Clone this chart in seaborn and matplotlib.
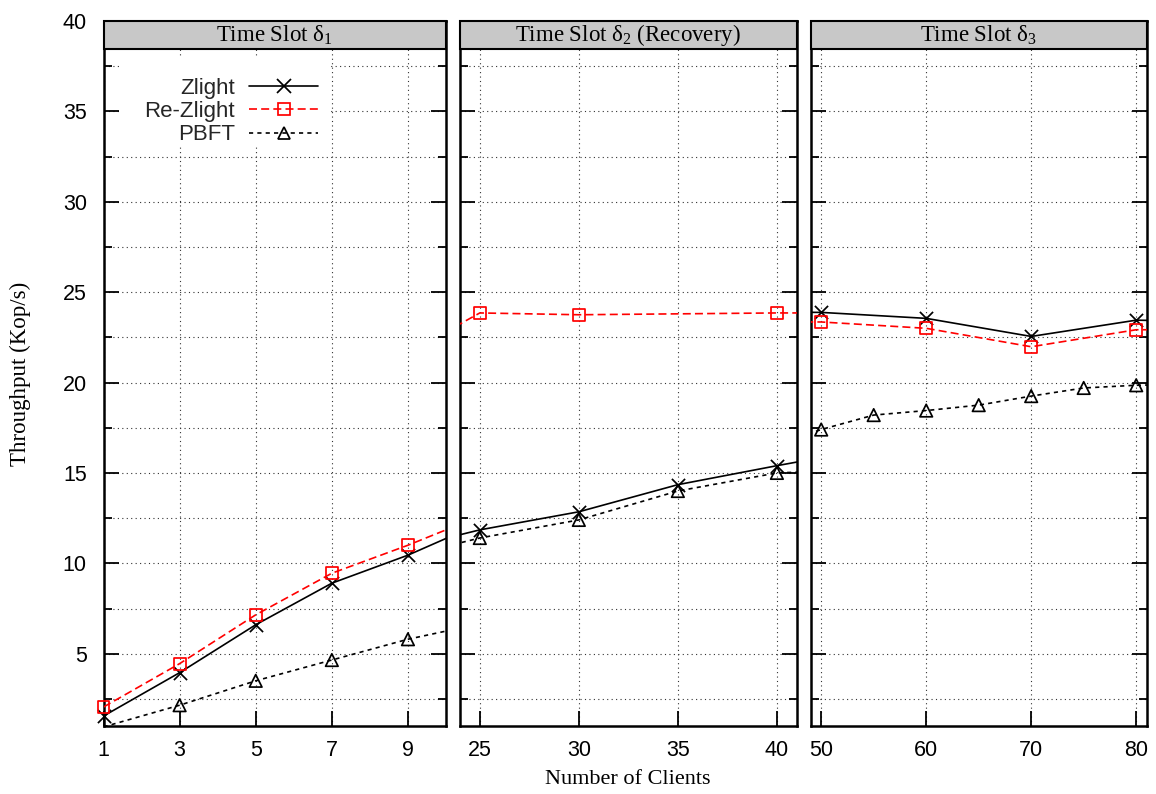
import numpy as np
import pandas as pd
import matplotlib
matplotlib.use("Agg")
import matplotlib.pyplot as plt
import seaborn as sns
from matplotlib.lines import Line2D
from matplotlib.patches import Rectangle
from matplotlib.ticker import MultipleLocator

sns.set_theme(style="white")
plt.rcParams['font.family'] = ['Liberation Sans', 'DejaVu Sans']
plt.rcParams['mathtext.default'] = 'regular'

# ---------------- data ----------------
series_names = ["Zlight", "Re-Zlight", "PBFT"]
panel_titles = ["Time Slot δ$_1$", "Time Slot δ$_2$ (Recovery)", "Time Slot δ$_3$"]
panel_xlims = [(1, 10), (24, 41), (49, 81)]
panel_xticks = [[1, 3, 5, 7, 9], [25, 30, 35, 40], [50, 60, 70, 80]]
y_ticks = [5, 10, 15, 20, 25, 30, 35, 40]
y_limits = (1, 40)

# time slot 1 (points beyond the visible range continue the curves off-panel)
s1_zlight_x = [1, 3, 5, 7, 9, 11]
s1_zlight_y = [1.55, 3.95, 6.6, 8.9, 10.45, 12.3]
s1_rezlight_x = [1, 3, 5, 7, 9, 11]
s1_rezlight_y = [2.05, 4.45, 7.15, 9.45, 11.0, 12.7]
s1_pbft_x = [1, 3, 5, 7, 9, 11]
s1_pbft_y = [0.95, 2.15, 3.5, 4.65, 5.8, 6.7]

# time slot 2 (recovery)
s2_zlight_x = [20, 25, 30, 35, 40, 45]
s2_zlight_y = [10.5, 11.85, 12.85, 14.35, 15.4, 16.4]
s2_rezlight_x = [20, 25, 30, 40, 45]
s2_rezlight_y = [20.8, 23.85, 23.75, 23.85, 23.85]
s2_pbft_x = [20, 25, 30, 35, 40, 45]
s2_pbft_y = [10.05, 11.4, 12.4, 14.0, 15.0, 15.2]

# time slot 3
s3_zlight_x = [45, 50, 60, 70, 80, 85]
s3_zlight_y = [23.9, 23.88, 23.55, 22.55, 23.45, 23.4]
s3_rezlight_x = [45, 50, 60, 70, 80, 85]
s3_rezlight_y = [23.35, 23.35, 23.0, 21.98, 22.92, 22.92]
s3_pbft_x = [45, 50, 55, 60, 65, 70, 75, 80, 85]
s3_pbft_y = [16.4, 17.4, 18.2, 18.45, 18.75, 19.25, 19.7, 19.85, 19.9]

panel_data = [
    [(s1_zlight_x, s1_zlight_y), (s1_rezlight_x, s1_rezlight_y), (s1_pbft_x, s1_pbft_y)],
    [(s2_zlight_x, s2_zlight_y), (s2_rezlight_x, s2_rezlight_y), (s2_pbft_x, s2_pbft_y)],
    [(s3_zlight_x, s3_zlight_y), (s3_rezlight_x, s3_rezlight_y), (s3_pbft_x, s3_pbft_y)],
]

# ---------------- styles ----------------
styles = {
    "Zlight":    dict(color="black", ls="-", marker="x", ms=9.5, filled=False),
    "Re-Zlight": dict(color="#ff0000", ls=(0, (4.8, 2.5)), marker="s", ms=8.5, filled=True),
    "PBFT":      dict(color="black", ls=(0, (2.5, 2.5)), marker="^", ms=9.0, filled=True),
}
LW = 1.2
MEW = 1.25

W, H = 1156, 794
fig = plt.figure(figsize=(W / 100, H / 100), dpi=100)
fig.patch.set_facecolor("white")

top_px, bot_px = 21, 726
panel_px = [(103.5, 446.0), (460.0, 796.7), (810.7, 1146.7)]
serif = ['Liberation Serif', 'DejaVu Serif']
TICK_FS = 15.5

axes = []
for i, (l, r) in enumerate(panel_px):
    ax = fig.add_axes([l / W, 1 - bot_px / H, (r - l) / W, (bot_px - top_px) / H])
    axes.append(ax)
    ax.set_facecolor("white")
    ax.set_axisbelow(True)
    for name, (xs, ys) in zip(series_names, panel_data[i]):
        st = styles[name]
        sns.lineplot(x=xs, y=ys, ax=ax, color=st["color"], linestyle=st["ls"],
                     linewidth=LW, errorbar=None, zorder=3)
        x0, x1 = panel_xlims[i]
        xin = [x for x, y in zip(xs, ys) if x0 <= x <= x1 and y_limits[0] <= y <= y_limits[1]]
        yin = [y for x, y in zip(xs, ys) if x0 <= x <= x1 and y_limits[0] <= y <= y_limits[1]]
        if st["filled"]:
            sns.scatterplot(x=xin, y=yin, ax=ax, marker=st["marker"], s=st["ms"] ** 2,
                            color=st["color"], facecolor="none", edgecolor=st["color"],
                            linewidth=MEW, clip_on=False, zorder=4, legend=False)
        else:
            sns.scatterplot(x=xin, y=yin, ax=ax, marker=st["marker"], s=st["ms"] ** 2,
                            color=st["color"], linewidth=MEW, clip_on=False, zorder=4,
                            legend=False)
    ax.set_xlim(*panel_xlims[i])
    ax.set_ylim(*y_limits)
    ax.set_xticks(panel_xticks[i])
    ax.set_xticklabels([str(t) for t in panel_xticks[i]])
    ax.set_yticks(y_ticks)
    ax.yaxis.set_minor_locator(MultipleLocator(2.5))
    ax.grid(True, which="both", axis="y", color="0.2", linestyle=(0, (1, 3)), linewidth=0.8)
    ax.grid(True, which="major", axis="x", color="0.2", linestyle=(0, (1, 3)), linewidth=0.8)
    ax.tick_params(axis="y", which="major", direction="in", left=True, right=True,
                   length=11, width=1.3, color="black", labelsize=TICK_FS, pad=12,
                   labelleft=(i == 0), labelcolor="black")
    ax.tick_params(axis="y", which="minor", direction="in", left=True, right=True,
                   length=5.5, width=1.3, color="black")
    ax.tick_params(axis="x", which="major", direction="in", bottom=True, top=False,
                   length=11, width=1.3, color="black", labelsize=TICK_FS, pad=10,
                   labelcolor="black")
    ax.set_xlabel("")
    ax.set_ylabel("")
    for sp in ax.spines.values():
        sp.set_visible(True)
        sp.set_color("black")
        sp.set_linewidth(1.8)
    # strip header
    strip_h = 28 / (bot_px - top_px)
    ax.add_patch(Rectangle((0, 1 - strip_h), 1, strip_h, transform=ax.transAxes,
                           facecolor="#c8c8c8", edgecolor="black", linewidth=1.5,
                           clip_on=False, zorder=10))
    ax.text(0.5, 1 - strip_h / 2, panel_titles[i], transform=ax.transAxes,
            ha="center", va="center", fontsize=16.5, family=serif, color="black",
            zorder=11, clip_on=False)

# legend background box (hides grid behind the key)
ax0 = axes[0]
l0, r0 = panel_px[0]
bx0 = (121 - l0) / (r0 - l0)
bx1 = (330 - l0) / (r0 - l0)
by0 = (bot_px - 147) / (bot_px - top_px)
by1 = (bot_px - 58) / (bot_px - top_px)
ax0.add_patch(Rectangle((bx0, by0), bx1 - bx0, by1 - by0, transform=ax0.transAxes,
                        facecolor="white", edgecolor="none", zorder=1.5))

handles = []
for name in series_names:
    st = styles[name]
    handles.append(Line2D([], [], color=st["color"], linestyle=st["ls"], linewidth=LW,
                          marker=st["marker"], markersize=st["ms"],
                          markerfacecolor="none", markeredgecolor=st["color"],
                          markeredgewidth=MEW))
leg = ax0.legend(handles, series_names, loc="upper right",
                 bbox_to_anchor=(318 / W, 1 - 78 / H), bbox_transform=fig.transFigure,
                 frameon=False, markerfirst=False, handlelength=3.1, handletextpad=0.65,
                 labelspacing=0.1, borderpad=0, borderaxespad=0,
                 prop={"family": ["Liberation Sans", "DejaVu Sans"], "size": 16})
leg.set_zorder(6)
for col in leg._legend_handle_box.get_children():
    col.align = "right"

fig.text(20 / W, 1 - 374 / H, "Throughput (Kop/s)", rotation=90, ha="center", va="center",
         fontsize=16.5, family=serif, color="black")
fig.text(628 / W, 1 - 780 / H, "Number of Clients", ha="center", va="center",
         fontsize=16, family=serif, color="black")

fig.savefig("out.png", dpi=100, facecolor="white")
